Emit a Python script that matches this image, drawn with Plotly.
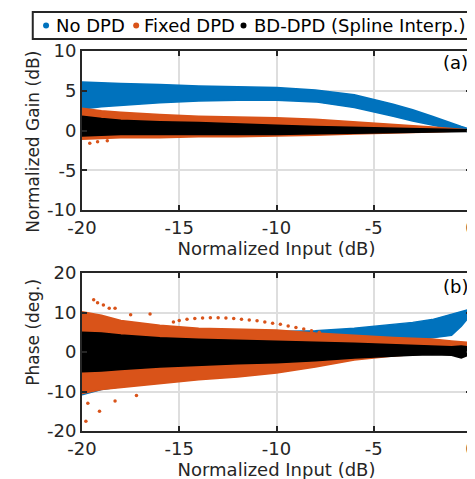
import plotly.graph_objects as go

# ---------------- data ----------------
x_grid = [-20, -19, -18, -16, -14, -12, -10, -8, -6, -4, -3, -2, -1, -0.5, 0]

# (a) Normalized gain (dB): upper / lower envelope of each point cloud
gain_nodpd_hi = [6.1, 6.0, 5.9, 5.8, 5.6, 5.5, 5.4, 5.1, 4.5, 3.3, 2.6, 1.8, 0.9, 0.5, 0.1]
gain_nodpd_lo = [2.7, 3.0, 3.2, 3.5, 3.7, 3.8, 3.8, 3.6, 2.9, 1.8, 1.2, 0.7, 0.2, 0.0, -0.2]
gain_fixed_hi = [2.8, 2.5, 2.3, 2.0, 1.8, 1.7, 1.6, 1.4, 1.1, 0.8, 0.6, 0.45, 0.25, 0.15, 0.05]
gain_fixed_lo = [-1.1, -1.0, -0.9, -0.9, -0.8, -0.8, -0.7, -0.6, -0.45, -0.3, -0.25, -0.2, -0.1, -0.05, -0.05]
gain_bd_hi = [1.8, 1.5, 1.3, 1.1, 1.0, 0.8, 0.65, 0.5, 0.4, 0.3, 0.25, 0.2, 0.15, 0.1, 0.1]
gain_bd_lo = [-0.7, -0.6, -0.5, -0.5, -0.5, -0.5, -0.5, -0.4, -0.35, -0.3, -0.25, -0.2, -0.15, -0.1, -0.1]

# (b) Phase (deg.): upper / lower envelope of each point cloud
phase_nodpd_hi = [8.5, 7.5, 6.8, 6.2, 5.8, 5.4, 5.2, 5.4, 6.0, 6.9, 7.5, 8.2, 9.5, 10.2, 10.9]
phase_nodpd_lo = [-10.8, -9.5, -8.8, -7.8, -6.8, -6.0, -5.0, -3.5, -1.5, 1.5, 3.0, 3.6, 4.2, 6.5, 9.5]
phase_fixed_hi = [10.2, 9.3, 8.0, 6.8, 6.0, 5.8, 5.6, 4.8, 4.2, 3.7, 3.5, 3.3, 2.8, 2.6, 2.4]
phase_fixed_lo = [-10.5, -9.5, -9.0, -8.0, -7.0, -6.3, -5.3, -3.8, -2.0, -1.0, -0.6, -0.3, 0.0, 0.2, 0.3]
phase_bd_hi = [5.0, 4.8, 4.3, 3.6, 3.2, 3.0, 2.8, 2.5, 2.2, 1.8, 1.6, 1.5, 1.3, 1.5, 1.2]
phase_bd_lo = [-5.0, -4.8, -4.4, -3.8, -3.4, -3.0, -2.7, -2.2, -1.5, -1.0, -0.8, -0.7, -0.8, -1.5, -0.5]

# sparse outlying points of the Fixed DPD phase cloud
phase_fixed_out_x = [-19.4, -19.2, -18.9, -18.6, -18.3, -17.5, -16.5,
                     -19.8, -19.7, -19.1, -18.3, -17.2,
                     -15.3, -15.0, -14.6, -14.2, -13.8, -13.4, -13.0, -12.6, -12.2,
                     -11.8, -11.4, -11.0, -10.6, -10.2, -9.8, -9.4, -9.0, -8.6, -8.2, -7.8]
phase_fixed_out_y = [13.2, 12.5, 11.9, 11.1, 11.1, 9.4, 9.6,
                     -17.5, -13.0, -15.0, -12.4, -11.0,
                     7.6, 8.0, 8.3, 8.5, 8.6, 8.7, 8.7, 8.6, 8.5,
                     8.3, 8.1, 7.9, 7.6, 7.3, 7.0, 6.6, 6.2, 5.8, 5.4, 5.0]
# sparse outlying points of the Fixed DPD gain cloud
gain_fixed_out_x = [-19.6, -19.2, -18.7]
gain_fixed_out_y = [-1.6, -1.4, -1.3]

series_names = ["No DPD", "Fixed DPD", "BD-DPD (Spline Interp.)"]
x_ticks = [-20, -15, -10, -5, 0]
x_tick_labels = ["-20", "-15", "-10", "-5", "0"]
gain_ticks = [-10, -5, 0, 5, 10]
gain_tick_labels = ["-10", "-5", "0", "5", "10"]
phase_ticks = [-20, -10, 0, 10, 20]
phase_tick_labels = ["-20", "-10", "0", "10", "20"]

# ---------------- styling ----------------
W, H = 475, 479
ML, MR, MT, MB = 74, 6, 43, 56
COLORS = ["#0072BD", "#D95319", "#000000"]
FONT = "DejaVu Sans"
TXT = "#262626"
FS = 18

fig = go.Figure()


def band(x, hi, lo, color, xa, ya):
    xs = list(x) + list(x)[::-1]
    ys = list(hi) + list(lo)[::-1]
    fig.add_trace(go.Scatter(x=xs, y=ys, fill="toself", fillcolor=color,
                             mode="lines", line=dict(color=color, width=1.5),
                             xaxis=xa, yaxis=ya, showlegend=False, hoverinfo="skip"))


def dots(x, y, color, xa, ya):
    fig.add_trace(go.Scatter(x=x, y=y, mode="markers",
                             marker=dict(color=color, size=3.5),
                             xaxis=xa, yaxis=ya, showlegend=False, hoverinfo="skip"))


# panel (a)
band(x_grid, gain_nodpd_hi, gain_nodpd_lo, COLORS[0], "x", "y")
dots(gain_fixed_out_x, gain_fixed_out_y, COLORS[1], "x", "y")
band(x_grid, gain_fixed_hi, gain_fixed_lo, COLORS[1], "x", "y")
band(x_grid, gain_bd_hi, gain_bd_lo, COLORS[2], "x", "y")
# panel (b)
band(x_grid, phase_nodpd_hi, phase_nodpd_lo, COLORS[0], "x2", "y2")
band(x_grid, phase_fixed_hi, phase_fixed_lo, COLORS[1], "x2", "y2")
dots(phase_fixed_out_x, phase_fixed_out_y, COLORS[1], "x2", "y2")
band(x_grid, phase_bd_hi, phase_bd_lo, COLORS[2], "x2", "y2")

plot_h = H - MT - MB
plot_w = W - ML - MR


def px2x(px):
    return (px - ML) / plot_w


def py2y(py):
    return (H - MB - py) / plot_h


axis_common = dict(
    showline=True, linecolor=TXT, linewidth=2, mirror="allticks",
    ticks="inside", ticklen=5, tickwidth=1.5, tickcolor=TXT,
    showgrid=True, gridcolor="#dedede", gridwidth=1.5, zeroline=False,
    tickfont=dict(family=FONT, size=FS, color=TXT),
)
title_font = dict(family=FONT, size=FS, color=TXT)

fig.update_layout(
    width=W, height=H,
    margin=dict(l=ML, r=MR, t=MT, b=MB),
    paper_bgcolor="white", plot_bgcolor="white",
    font=dict(family=FONT, size=FS, color=TXT),
    showlegend=False,
    xaxis=dict(domain=[0, 1], anchor="y", range=[-20, 0],
               tickvals=x_ticks, ticktext=x_tick_labels,
               title=dict(text="Normalized Input (dB)", standoff=2, font=title_font),
               **axis_common),
    yaxis=dict(domain=[py2y(202), 1], anchor="x", range=[-10, 10],
               tickvals=gain_ticks, ticktext=gain_tick_labels,
               **axis_common),
    xaxis2=dict(domain=[0, 1], anchor="y2", range=[-20, 0],
                tickvals=x_ticks, ticktext=x_tick_labels,
                title=dict(text="Normalized Input (dB)", standoff=2, font=title_font),
                **axis_common),
    yaxis2=dict(domain=[0, py2y(265)], anchor="x2", range=[-20, 20],
                tickvals=phase_ticks, ticktext=phase_tick_labels,
                **axis_common),
)

# y-axis titles (placed where the reference shows them)
fig.add_annotation(text="Normalized Gain (dB)", xref="paper", yref="paper",
                   x=px2x(24), y=py2y(134), textangle=-90, showarrow=False,
                   xanchor="center", yanchor="middle",
                   font=dict(family=FONT, size=17, color=TXT))
fig.add_annotation(text="Phase (deg.)", xref="paper", yref="paper",
                   x=px2x(24), y=py2y(324), textangle=-90, showarrow=False,
                   xanchor="center", yanchor="middle",
                   font=dict(family=FONT, size=17, color=TXT))

# panel labels
fig.add_annotation(text="(a)", xref="x domain", yref="y domain", x=1, y=1,
                   xanchor="right", yanchor="top", xshift=-1, yshift=1,
                   showarrow=False, font=dict(family=FONT, size=FS, color="#000000"))
fig.add_annotation(text="(b)", xref="x2 domain", yref="y2 domain", x=1, y=1,
                   xanchor="right", yanchor="top", xshift=-1, yshift=-1,
                   showarrow=False, font=dict(family=FONT, size=FS, color="#000000"))

# hand-built legend box across the top
fig.add_shape(type="rect", xref="paper", yref="paper",
              x0=px2x(24), x1=px2x(471), y0=py2y(31), y1=py2y(4),
              line=dict(color=TXT, width=2), fillcolor="white")
dot_px = [37.5, 129, 238]
text_px = [46, 135, 247]
for name, col, dx, tx in zip(series_names, COLORS, dot_px, text_px):
    fig.add_shape(type="circle", xref="paper", yref="paper",
                  xsizemode="pixel", ysizemode="pixel",
                  xanchor=px2x(dx), yanchor=py2y(17.5),
                  x0=-3, x1=3, y0=-3, y1=3,
                  fillcolor=col, line=dict(color=col, width=0))
    fig.add_annotation(text=name, xref="paper", yref="paper",
                       x=px2x(tx), y=py2y(17.5), xanchor="left", yanchor="middle",
                       showarrow=False, font=dict(family=FONT, size=FS, color="#000000"))

fig.write_html("out.html")
